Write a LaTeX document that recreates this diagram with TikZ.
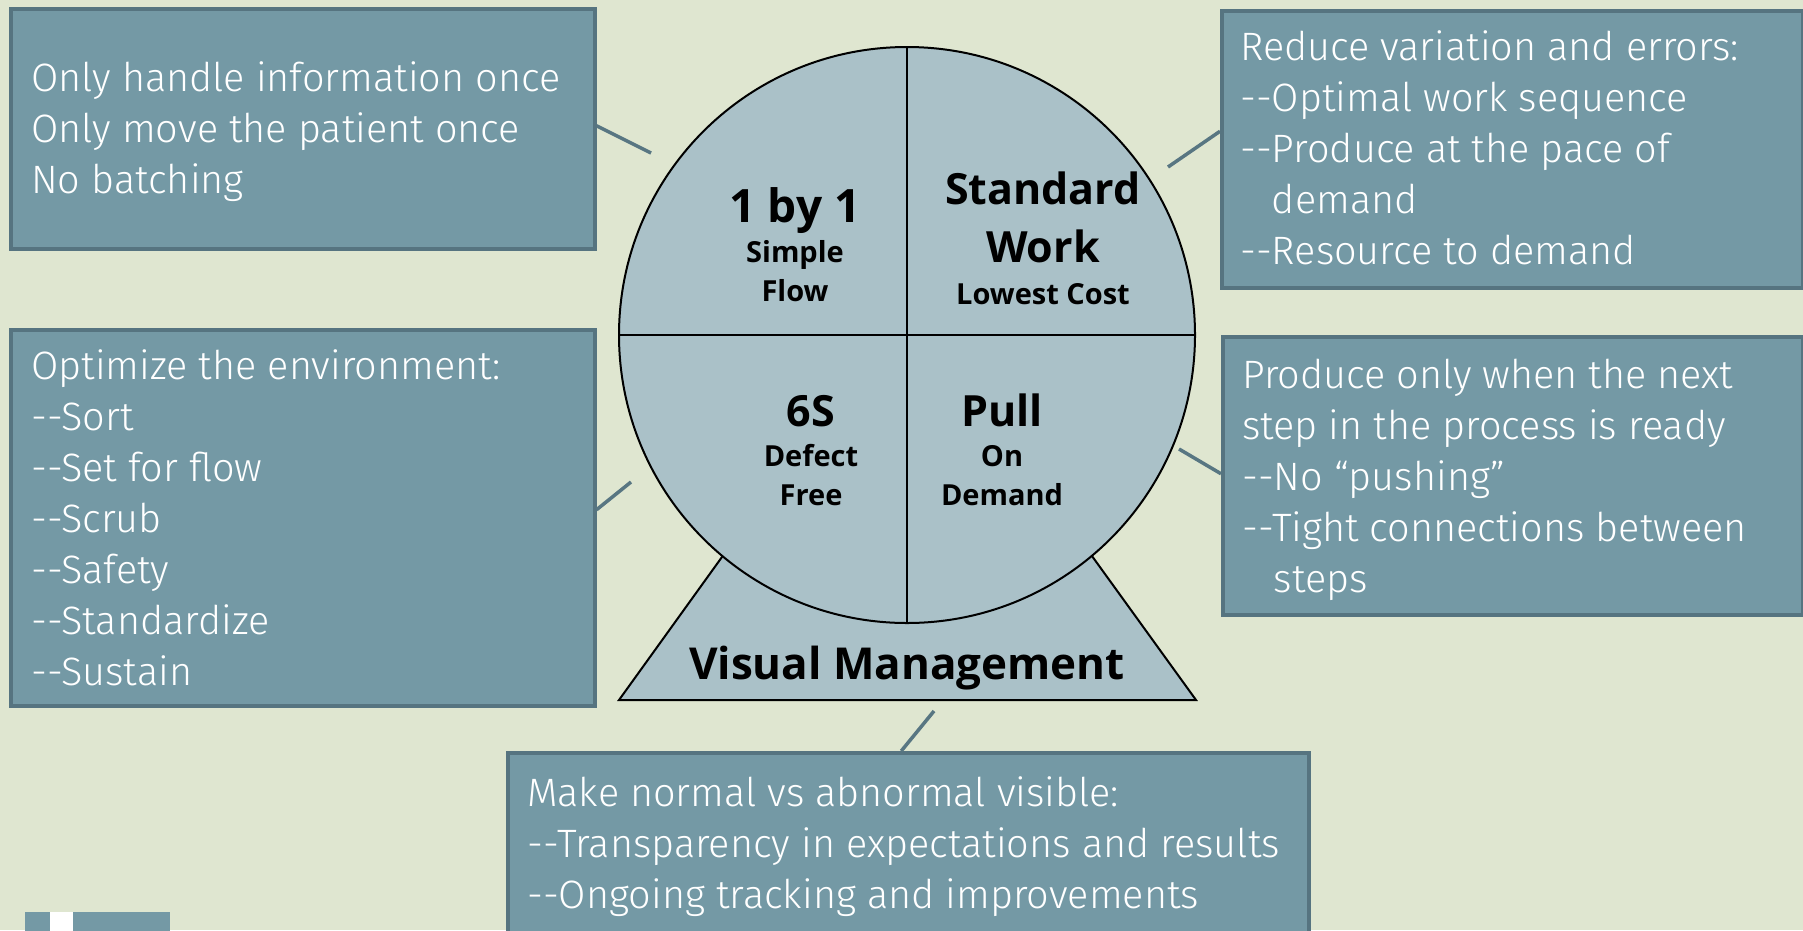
\documentclass[tikz,border=0pt]{standalone}
\usepackage{fontspec}
\setmainfont{Open Sans}
\newfontfamily\lightf{Fira Sans}[UprightFont=* Light, Ligatures=TeXOff]
\newfontfamily\boldf{Open Sans}[UprightFont=* Bold]
\definecolor{bgc}{RGB}{223,230,208}
\definecolor{boxfill}{RGB}{116,153,165}
\definecolor{boxline}{RGB}{86,116,128}
\definecolor{circfill}{RGB}{170,193,200}
\definecolor{conn}{RGB}{88,118,130}
\newcommand\mylines[1]{\begin{tabular}[t]{@{}l@{}}#1\end{tabular}}
\tikzset{
  box/.style={draw=boxline, line width=3.5pt, fill=boxfill, anchor=north west, inner sep=0pt},
  boxtext/.style={anchor=base west, inner sep=0pt, text=white, font=\lightf\fontsize{39.6}{51}\selectfont},
  big/.style={anchor=base, inner sep=0pt, font=\boldf\fontsize{43}{50}\selectfont},
  small/.style={anchor=base, inner sep=0pt, font=\boldf\fontsize{29}{34}\selectfont},
  connector/.style={draw=conn, line width=3.5pt},
}
\begin{document}
\begin{tikzpicture}[x=1pt,y=-1pt]
\fill[bgc] (0,0) rectangle (1803,930);
\useasboundingbox (0,0) rectangle (1803,930);

% boxes
\node[box, minimum width=584pt, minimum height=240pt] (b1) at (9,7) {};
\node[box, minimum width=581pt, minimum height=277pt] (b2) at (1220,9) {};
\node[box, minimum width=584pt, minimum height=376pt] (b3) at (9,328) {};
\node[box, minimum width=580pt, minimum height=278pt] (b4) at (1221,335) {};
\node[box, minimum width=801pt, minimum height=220pt] (b5) at (506,751) {};

% logo fragment
\fill[boxfill] (25,912) rectangle (170,935);
\fill[white] (50,912) rectangle (73,935);

% triangle and circle
\filldraw[fill=circfill, draw=black, line width=2pt] (619,700) -- (1196,700) -- (907,300) -- cycle;
\node[draw=black, fill=circfill, line width=2pt, circle, minimum size=576pt, inner sep=0pt] (circ) at (907,335) {};
\draw[black, line width=2pt] (circ.north) -- (circ.south);
\draw[black, line width=2pt] (circ.west) -- (circ.east);

% connectors
\coordinate (c1) at (651,153);
\coordinate (c2) at (1168,167);
\coordinate (c3) at (631,482);
\coordinate (c4) at (1179,449);
\coordinate (c5) at (934,711);
\draw[connector] ([yshift=3pt]b1.east) -- (c1);
\draw[connector] ([yshift=18pt]b2.west) -- (c2);
\draw[connector] ([yshift=8pt]b3.east) -- (c3);
\draw[connector] ([yshift=2pt]b4.west) -- (c4);
\draw[connector] ([xshift=-7pt]b5.north) -- (c5);

% circle labels
\node[big, font=\boldf\fontsize{46}{50}\selectfont] (q1a) at (795,222) {1 by 1};
\node[small] (q1b) at (795,262) {Simple};
\node[small] (q1c) at (795,301) {Flow};
\node[big] (q2a) at (1043,204) {Standard};
\node[big] (q2b) at (1043,262) {Work};
\node[small] (q2c) at (1043,304) {Lowest Cost};
\node[big] (q3a) at (811,426) {6S};
\node[small] (q3b) at (811,466) {Defect};
\node[small] (q3c) at (811,505) {Free};
\node[big] (q4a) at (1002,426) {Pull};
\node[small] (q4b) at (1002,466) {On};
\node[small] (q4c) at (1002,505) {Demand};
\node[big, font=\boldf\fontsize{44}{50}\selectfont] (vm) at (907,679) {Visual Management};

% box texts
\node[boxtext] (t1) at (31,91) {\mylines{Only handle information once\\Only move the patient once\\No batching}};
\node[boxtext] (t2) at (1240,60) {\mylines{Reduce variation and errors:\\--Optimal work sequence\\--Produce at the pace of\\\phantom{--}demand\\--Resource to demand}};
\node[boxtext] (t3) at (31,379) {\mylines{Optimize the environment:\\--Sort\\--Set for flow\\--Scrub\\--Safety\\--Standardize\\--Sustain}};
\node[boxtext] (t4) at (1242,388) {\mylines{Produce only when the next\\step in the process is ready\\--No “pushing”\\--Tight connections between\\\phantom{--}steps}};
\node[boxtext] (t5) at (527,806) {\mylines{Make normal vs abnormal visible:\\--Transparency in expectations and results\\--Ongoing tracking and improvements}};
\end{tikzpicture}
\end{document}
